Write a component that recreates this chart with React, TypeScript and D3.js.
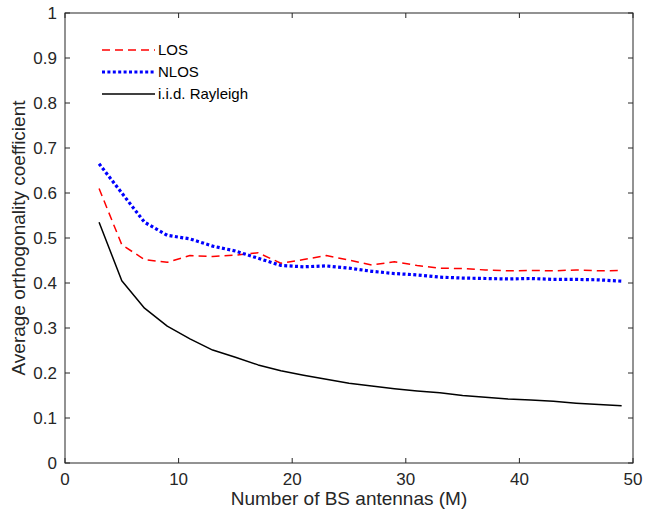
import React from "react";
import * as d3 from "d3";

const antennas = [3, 5, 7, 9, 11, 13, 15, 17, 19, 21, 23, 25, 27, 29, 31, 33, 35, 37, 39, 41, 43, 45, 47, 49];
const losValues = [0.61, 0.485, 0.452, 0.446, 0.461, 0.459, 0.462, 0.467, 0.444, 0.452, 0.461, 0.451, 0.44, 0.447, 0.439, 0.433, 0.432, 0.429, 0.427, 0.428, 0.427, 0.429, 0.427, 0.428];
const nlosValues = [0.665, 0.6, 0.535, 0.506, 0.498, 0.482, 0.471, 0.455, 0.439, 0.436, 0.438, 0.433, 0.426, 0.421, 0.418, 0.413, 0.411, 0.41, 0.409, 0.41, 0.408, 0.408, 0.407, 0.404];
const rayleighValues = [0.535, 0.405, 0.344, 0.304, 0.276, 0.251, 0.235, 0.218, 0.205, 0.195, 0.186, 0.177, 0.171, 0.165, 0.16, 0.156, 0.15, 0.146, 0.142, 0.14, 0.137, 0.133, 0.13, 0.127];
const xTicks = [0, 10, 20, 30, 40, 50];
const yTicks = [0, 0.1, 0.2, 0.3, 0.4, 0.5, 0.6, 0.7, 0.8, 0.9, 1];
const seriesNames = ["LOS", "NLOS", "i.i.d. Rayleigh"];

const W = 646, H = 519;
const M = { left: 65, right: 13, top: 13, bottom: 56 };
const FONT = "Liberation Sans, Arial, Helvetica, sans-serif";
const AX = "#262626";

export default function App() {
  const x = d3.scaleLinear().domain([0, 50]).range([M.left, W - M.right]);
  const y = d3.scaleLinear().domain([0, 1]).range([H - M.bottom, M.top]);
  const line = d3.line<number>().x((_, i) => x(antennas[i])).y((d) => y(d));

  const styles = [
    { data: losValues, stroke: "#ff0000", width: 1.5, dash: "8,5" },
    { data: nlosValues, stroke: "#0000ff", width: 3.2, dash: "3,2.4" },
    { data: rayleighValues, stroke: "#000000", width: 1.5, dash: "" },
  ];

  const x0 = x(0), x1 = x(50), y0 = y(0), y1 = y(1);
  const tl = 5;

  return (
    <svg width={W} height={H} style={{ position: "absolute", left: 0, top: 0, background: "#fff" }}>
      <rect x={0} y={0} width={W} height={H} fill="#fff" />
      {styles.map((s, i) => (
        <path key={i} d={line(s.data) || ""} fill="none" stroke={s.stroke} strokeWidth={s.width}
          strokeDasharray={s.dash || undefined} strokeLinejoin="round" />
      ))}
      <rect x={x0} y={y1} width={x1 - x0} height={y0 - y1} fill="none" stroke={AX} strokeWidth={1} />
      {xTicks.map((t) => (
        <g key={"x" + t}>
          <line x1={x(t)} x2={x(t)} y1={y0} y2={y0 - tl} stroke={AX} />
          <line x1={x(t)} x2={x(t)} y1={y1} y2={y1 + tl} stroke={AX} />
          <text x={x(t)} y={y0 + 22} textAnchor="middle" fontFamily={FONT} fontSize={17} fill={AX}>{t}</text>
        </g>
      ))}
      {yTicks.map((t) => (
        <g key={"y" + t}>
          <line x1={x0} x2={x0 + tl} y1={y(t)} y2={y(t)} stroke={AX} />
          <line x1={x1} x2={x1 - tl} y1={y(t)} y2={y(t)} stroke={AX} />
          <text x={x0 - 8} y={y(t) + 6} textAnchor="end" fontFamily={FONT} fontSize={17} fill={AX}>{t}</text>
        </g>
      ))}
      <text x={(x0 + x1) / 2} y={H - 14} textAnchor="middle" fontFamily={FONT} fontSize={19} fill={AX}>Number of BS antennas (M)</text>
      <text transform={`translate(25,${(y0 + y1) / 2}) rotate(-90)`} textAnchor="middle" fontFamily={FONT} fontSize={19} fill={AX}>Average orthogonality coefficient</text>
      {styles.map((s, i) => (
        <g key={"l" + i}>
          <line x1={102} x2={155} y1={50 + i * 22} y2={50 + i * 22} stroke={s.stroke} strokeWidth={s.width}
            strokeDasharray={s.dash || undefined} />
          <text x={158} y={50 + i * 22 + 5} fontFamily={FONT} fontSize={15} fill="#000">{seriesNames[i]}</text>
        </g>
      ))}
    </svg>
  );
}
